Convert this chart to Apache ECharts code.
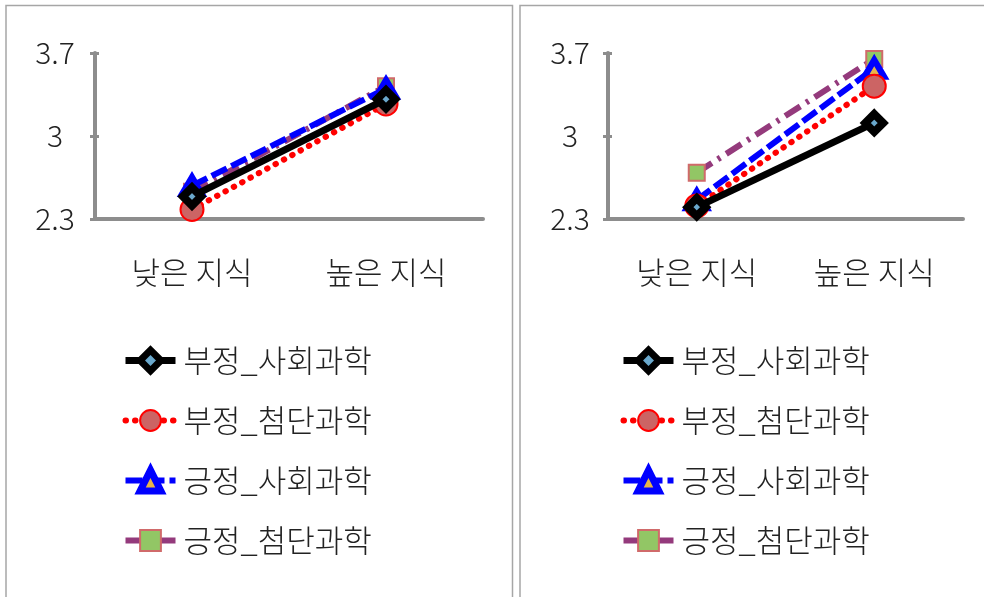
<!DOCTYPE html>
<html>
<head>
<meta charset="utf-8">
<script src="https://cdn.jsdelivr.net/npm/echarts@6/dist/echarts.min.js"></script>
<style>
  html, body { margin: 0; padding: 0; background: #fff; }
  #chart { width: 984px; height: 597px; }
</style>
</head>
<body>
<div id="chart"></div>
<script>
// Categories on the x axis
const categories = ['낮은 지식', '높은 지식'];

// Y axis ticks
const yMin = 2.3;
const yMax = 3.7;
const yTicks = [2.3, 3, 3.7];

// Series names
const seriesNames = ['부정_사회과학', '부정_첨단과학', '긍정_사회과학', '긍정_첨단과학'];

// Left panel values
const leftNegSocial = [2.49, 3.31];
const leftNegTech   = [2.38, 3.27];
const leftPosSocial = [2.58, 3.40];
const leftPosTech   = [2.53, 3.42];

// Right panel values
const rightNegSocial = [2.40, 3.11];
const rightNegTech   = [2.41, 3.42];
const rightPosSocial = [2.46, 3.57];
const rightPosTech   = [2.69, 3.65];

const FONT = '"Noto Sans CJK KR", "Noto Sans", sans-serif';
const FONT_WEIGHT = 300;
const AXIS_GRAY = '#8d8d8d';
const TEXT = '#222222';

// Visual style of each series (same in both panels)
const styles = [
  { // 부정_사회과학
    symbol: 'diamond', symbolSize: 18, z: 6,
    lineStyle: { color: '#000000', width: 7, type: 'solid' },
    itemStyle: { color: '#6aa8cc', borderColor: '#000000', borderWidth: 8 },
    legendItem: { itemStyle: { borderWidth: 7 }, lineStyle: { width: 7 } }
  },
  { // 부정_첨단과학
    symbol: 'circle', symbolSize: 23, z: 5,
    lineStyle: { color: '#ff0000', width: 6, type: [0.5, 9], cap: 'round' },
    itemStyle: { color: '#cc6464', borderColor: '#ff0000', borderWidth: 2 },
    legendItem: { itemStyle: { borderWidth: 2 }, lineStyle: { width: 6 } }
  },
  { // 긍정_사회과학
    symbol: 'triangle', symbolSize: [20, 17], z: 4,
    lineStyle: { color: '#0000ff', width: 6, type: [17, 5] },
    itemStyle: { color: '#e8b44a', borderColor: '#0000ff', borderWidth: 6 },
    legendItem: { itemStyle: { borderWidth: 7 }, lineStyle: { width: 6 } }
  },
  { // 긍정_첨단과학
    symbol: 'rect', symbolSize: 16, z: 3,
    lineStyle: { color: '#943a7c', width: 6, type: [18, 7, 3, 7] },
    itemStyle: { color: '#92c665', borderColor: '#d06a6a', borderWidth: 2 },
    legendItem: { itemStyle: { borderWidth: 2 }, lineStyle: { width: 6 } }
  }
];

const leftData = [leftNegSocial, leftNegTech, leftPosSocial, leftPosTech];
const rightData = [rightNegSocial, rightNegTech, rightPosSocial, rightPosTech];

function makeSeries(dataSets, axisIndex) {
  return dataSets.map((values, i) => {
    const s = styles[i];
    return {
      name: seriesNames[i],
      type: 'line',
      xAxisIndex: axisIndex,
      yAxisIndex: axisIndex * 2,
      data: values,
      symbol: s.symbol,
      symbolSize: s.symbolSize,
      showAllSymbol: true,
      z: s.z,
      lineStyle: s.lineStyle,
      itemStyle: s.itemStyle,
      emphasis: { disabled: true },
      animation: false
    };
  });
}

function makeLegend(left) {
  return {
    orient: 'vertical',
    left: left,
    top: 340,
    itemWidth: 50,
    itemHeight: 26,
    itemGap: 29,
    selectedMode: false,
    textStyle: {
      fontFamily: FONT, fontWeight: FONT_WEIGHT, fontSize: 31, color: TEXT,
      lineHeight: 31, padding: [0, 0, 0, 3]
    },
    data: seriesNames.map((n, i) => Object.assign({ name: n }, styles[i].legendItem))
  };
}

function makeXAxis(gridIndex) {
  return {
    type: 'category',
    gridIndex: gridIndex,
    data: categories,
    boundaryGap: true,
    axisLine: { show: true, lineStyle: { color: AXIS_GRAY, width: 4 } },
    axisTick: { show: false },
    axisLabel: { fontFamily: FONT, fontWeight: FONT_WEIGHT, fontSize: 31, color: TEXT, margin: 38 },
    splitLine: { show: false }
  };
}

function makeYAxes(gridIndex, labelMargin) {
  const base = {
    type: 'value',
    gridIndex: gridIndex,
    min: yMin,
    max: yMax,
    interval: 0.7,
    position: 'left',
    splitLine: { show: false }
  };
  return [
    Object.assign({}, base, {
      axisLine: { show: true, lineStyle: { color: AXIS_GRAY, width: 4 } },
      axisTick: { show: true, inside: false, length: 5, lineStyle: { color: AXIS_GRAY, width: 3 } },
      axisLabel: {
        fontFamily: FONT, fontWeight: FONT_WEIGHT, fontSize: 30, color: TEXT,
        align: 'center', margin: labelMargin,
        formatter: v => {
          const t = yTicks.find(k => Math.abs(k - v) < 1e-6);
          return t === undefined ? '' : String(t);
        }
      }
    }),
    // inner half of the tick marks so they cross the axis line
    Object.assign({}, base, {
      axisLine: { show: false },
      axisTick: { show: true, inside: true, length: 4, lineStyle: { color: AXIS_GRAY, width: 3 } },
      axisLabel: { show: false }
    })
  ];
}

const chart = echarts.init(document.getElementById('chart'), null, { renderer: 'canvas' });

chart.setOption({
  backgroundColor: '#ffffff',
  animation: false,
  grid: [
    { left: 95, right: 501, top: 53, bottom: 378 },
    { left: 608, right: 21, top: 53, bottom: 378 }
  ],
  xAxis: [makeXAxis(0), makeXAxis(1)],
  yAxis: makeYAxes(0, 40).concat(makeYAxes(1, 38)),
  legend: [makeLegend(117), makeLegend(615)],
  graphic: [
    {
      type: 'rect', silent: true, z: -1,
      shape: { x: 6, y: 5.5, width: 506.5, height: 620 },
      style: { fill: 'none', stroke: '#a6a6a6', lineWidth: 1.5 }
    },
    {
      type: 'rect', silent: true, z: -1,
      shape: { x: 520, y: 5.5, width: 480, height: 620 },
      style: { fill: 'none', stroke: '#a6a6a6', lineWidth: 1.5 }
    }
  ],
  series: makeSeries(leftData, 0).concat(makeSeries(rightData, 1))
});
</script>
</body>
</html>
